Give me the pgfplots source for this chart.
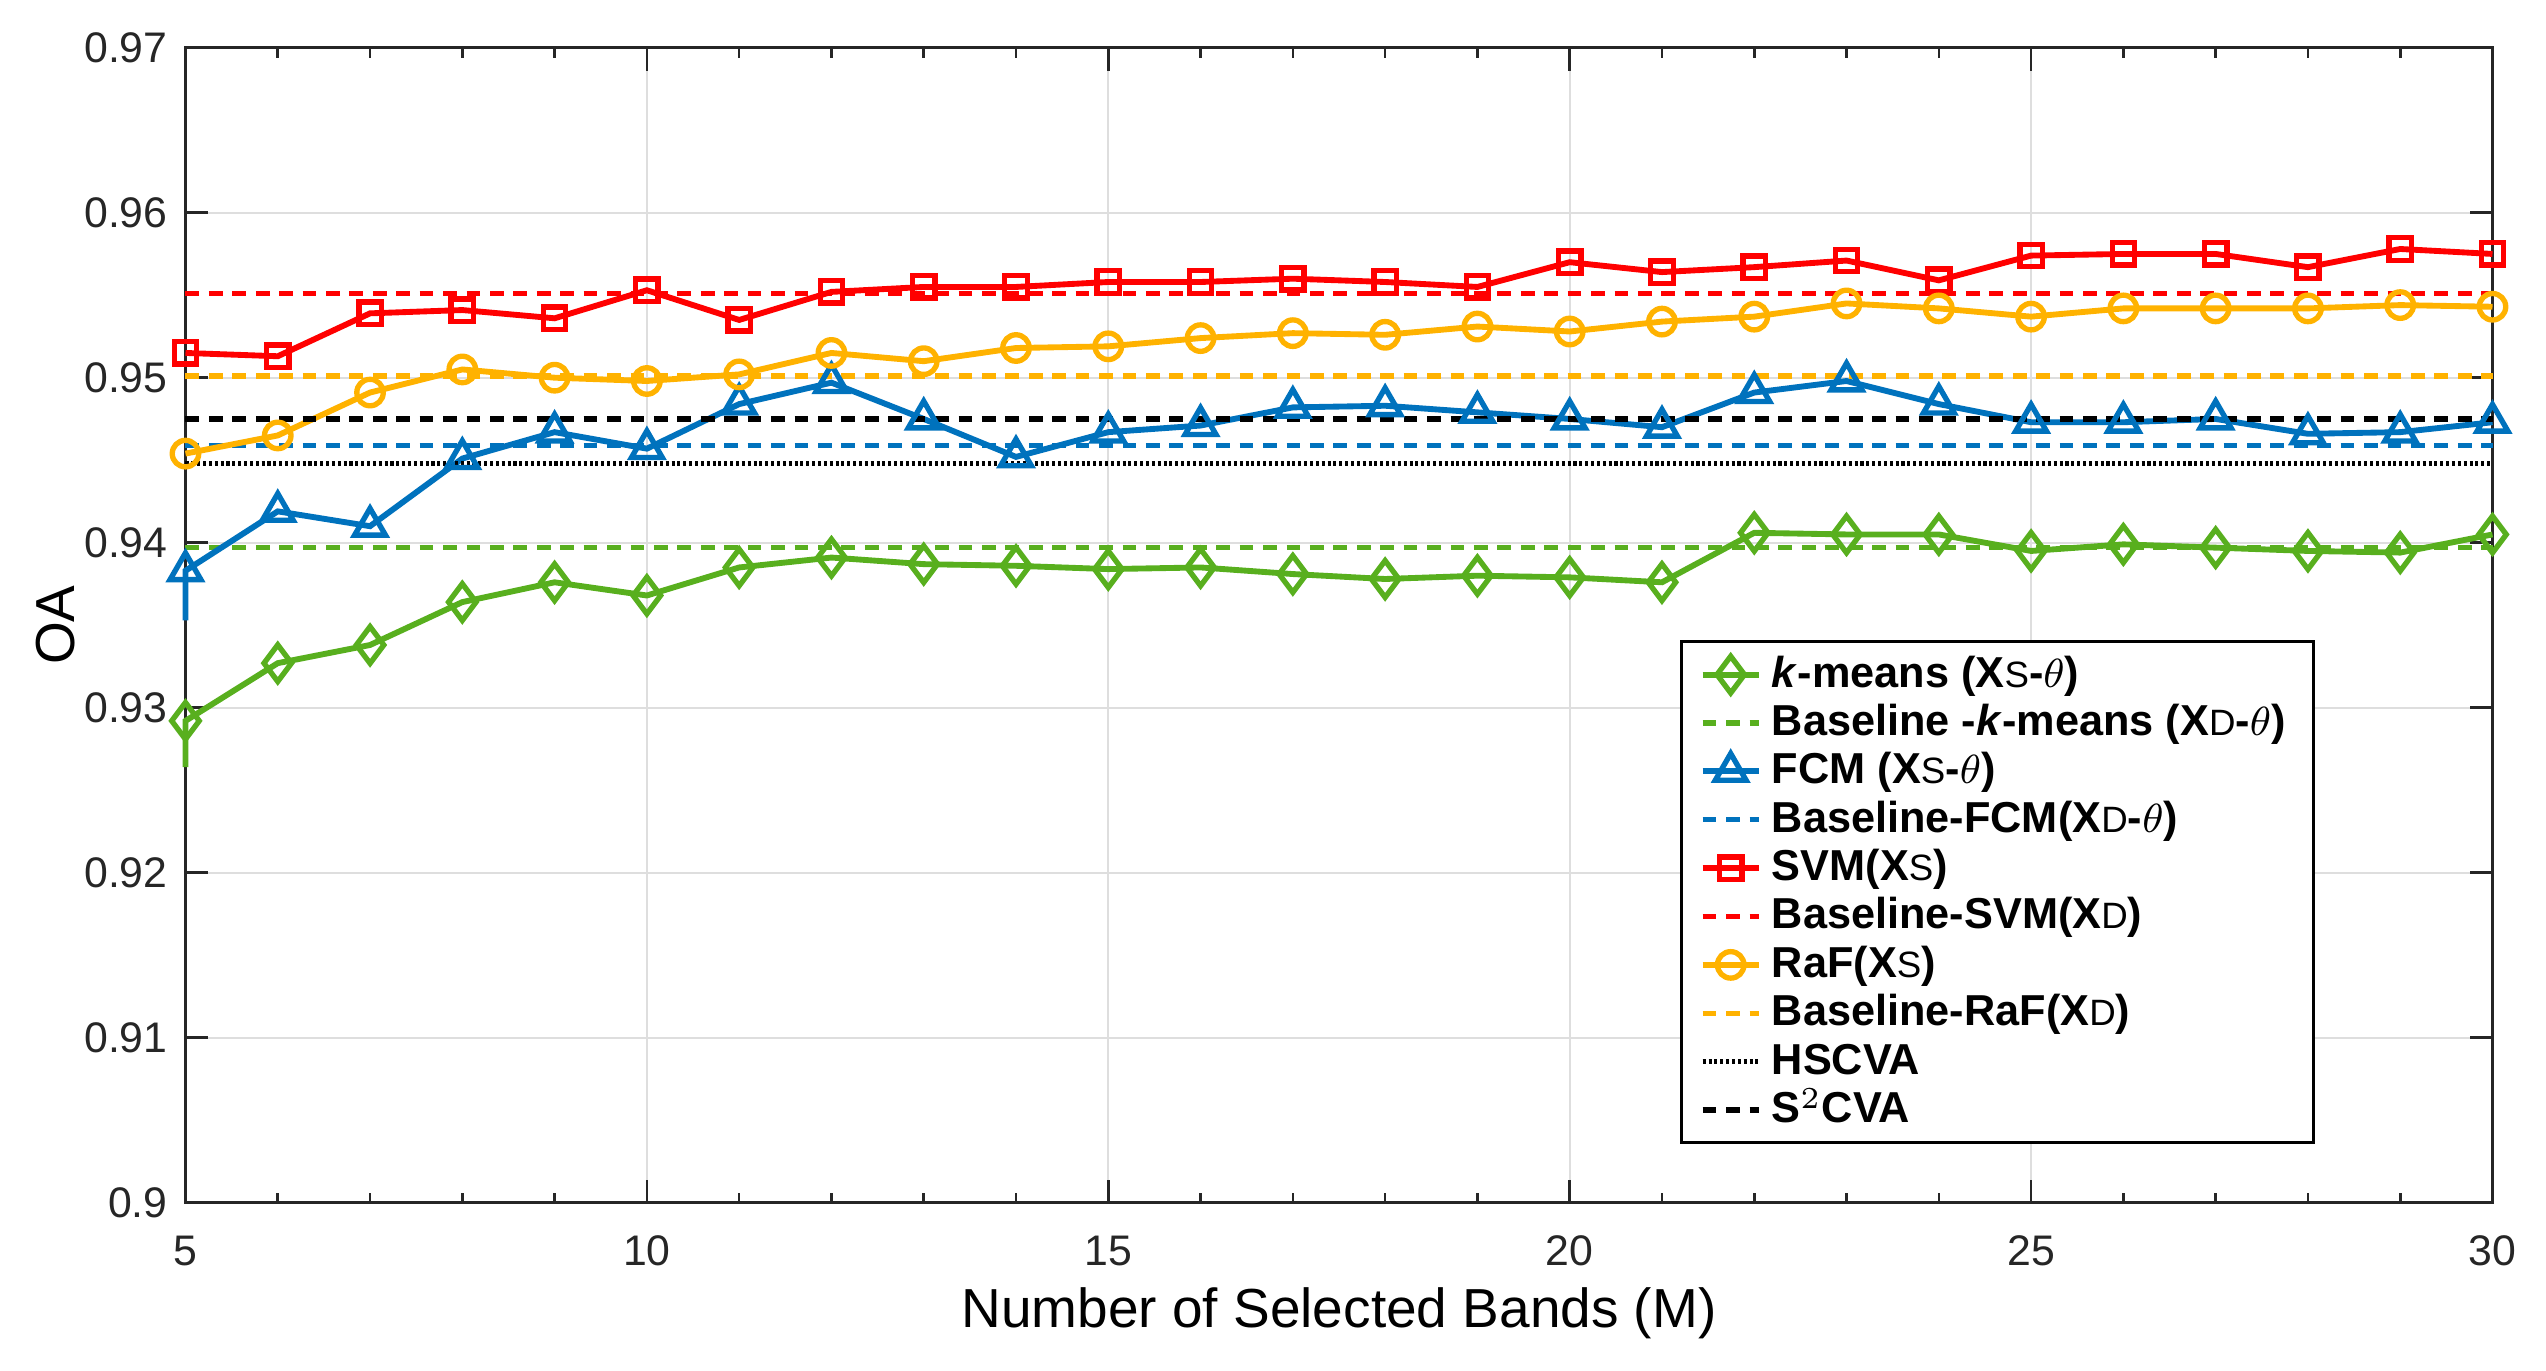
\documentclass[border=0pt]{standalone}
\usepackage{fontspec}
\setmainfont{Liberation Sans}
\usepackage{pgfplots}
\pgfplotsset{compat=1.18}

\definecolor{cgreen}{RGB}{88,175,30}
\definecolor{cblue}{RGB}{0,114,189}
\definecolor{cred}{RGB}{255,0,0}
\definecolor{corange}{RGB}{255,178,0}
\definecolor{axgray}{RGB}{38,38,38}

\newcommand{\Xs}{X{\mdseries\fontsize{7.2}{8}\selectfont S}}
\newcommand{\Xd}{X{\mdseries\fontsize{7.2}{8}\selectfont D}}

\pgfplotsset{
  solidline/.style={solid, line width=1.15pt, every mark/.append style={solid, line width=1.05pt}},
  baseline/.style={dash pattern=on 2.7pt off 1.9pt, line width=1.05pt},
}

\begin{document}
\begin{tikzpicture}
\begin{axis}[
  scale only axis, width=453pt, height=226.8pt,
  xmin=5, xmax=30, ymin=0.9, ymax=0.97,
  clip=false,
  axis line style={axgray, line width=0.5pt},
  xtick={5,10,...,30}, minor x tick num=4,
  ytick={0.9,0.91,0.92,0.93,0.94,0.95,0.96,0.97},
  tick align=inside,
  major tick length=4.5pt, minor tick length=2pt,
  tick style={axgray, line width=0.5pt},
  grid=major,
  major grid style={black!13, line width=0.4pt},
  /pgf/number format/assume math mode=true,
  yticklabel style={/pgf/number format/fixed, /pgf/number format/precision=2},
  ticklabel style={font=\fontsize{8.4}{9}\selectfont, text=axgray},
  xticklabel style={yshift=-3pt},
  xlabel={Number of Selected Bands (M)},
  ylabel={OA},
  label style={font=\fontsize{10.8}{12}\selectfont},
  xlabel style={at={(axis description cs:0.5,-0.0953)}, anchor=center},
  ylabel style={at={(axis description cs:-0.0565,0.5)}, anchor=center, rotate=0},
  legend cell align=left,
  legend image code/.code={\draw[mark repeat=2, mark phase=2] plot coordinates {(0pt,0pt) (5.5pt,0pt) (11pt,0pt)};},
  legend style={at={(0.648,0.487)}, anchor=north west, draw=black, line width=0.6pt, fill=white,
    font=\bfseries\fontsize{8.5}{9}\selectfont, inner xsep=3.5pt, inner ysep=2pt, row sep=0.6pt,
    nodes={inner ysep=0pt, text height=6.9pt, text depth=2pt}},
]

\addplot[cgreen, solidline, mark=diamond, mark size=3.6pt, mark phase=2] coordinates {
(5,0.9264) (5,0.9292) (6,0.9327) (7,0.9338) (8,0.9364) (9,0.9376) (10,0.9368) (11,0.9385)
(12,0.9391) (13,0.9387) (14,0.9386) (15,0.9384) (16,0.9385) (17,0.9381) (18,0.9378)
(19,0.9380) (20,0.9379) (21,0.9376) (22,0.9406) (23,0.9405) (24,0.9405) (25,0.9395)
(26,0.9399) (27,0.9397) (28,0.9395) (29,0.9394) (30,0.9405)};
\addlegendentry{\textit{k}-means (\Xs-$\theta$)}

\addplot[cgreen, baseline] coordinates {(5,0.9397) (30,0.9397)};
\addlegendentry{Baseline -\textit{k}-means (\Xd-$\theta$)}

\addplot[cblue, solidline, mark=triangle, mark size=3.5pt, mark phase=2] coordinates {
(5,0.9353) (5,0.9383) (6,0.9419) (7,0.9410) (8,0.9451) (9,0.9467) (10,0.9457) (11,0.9484)
(12,0.9497) (13,0.9475) (14,0.9452) (15,0.9467) (16,0.9471) (17,0.9482) (18,0.9483)
(19,0.9479) (20,0.9475) (21,0.9470) (22,0.9491) (23,0.9498) (24,0.9484) (25,0.9473)
(26,0.9473) (27,0.9475) (28,0.9466) (29,0.9467) (30,0.9473)};
\addlegendentry{FCM (\Xs-$\theta$)}

\addplot[cblue, baseline] coordinates {(5,0.9459) (30,0.9459)};
\addlegendentry{Baseline-FCM(\Xd-$\theta$)}

\addplot[cred, solidline, mark=square, mark size=2.2pt] coordinates {
(5,0.9515) (6,0.9513) (7,0.9539) (8,0.9541) (9,0.9536) (10,0.9553) (11,0.9535)
(12,0.9552) (13,0.9555) (14,0.9555) (15,0.9558) (16,0.9558) (17,0.9560) (18,0.9558)
(19,0.9555) (20,0.9570) (21,0.9564) (22,0.9567) (23,0.9571) (24,0.9559) (25,0.9574)
(26,0.9575) (27,0.9575) (28,0.9567) (29,0.9578) (30,0.9575)};
\addlegendentry{SVM(\Xs)}

\addplot[cred, baseline] coordinates {(5,0.9551) (30,0.9551)};
\addlegendentry{Baseline-SVM(\Xd)}

\addplot[corange, solidline, mark=o, mark size=2.6pt] coordinates {
(5,0.9454) (6,0.9465) (7,0.9491) (8,0.9505) (9,0.9500) (10,0.9498) (11,0.9502)
(12,0.9515) (13,0.9510) (14,0.9518) (15,0.9519) (16,0.9524) (17,0.9527) (18,0.9526)
(19,0.9531) (20,0.9528) (21,0.9534) (22,0.9537) (23,0.9545) (24,0.9542) (25,0.9537)
(26,0.9542) (27,0.9542) (28,0.9542) (29,0.9544) (30,0.9543)};
\addlegendentry{RaF(\Xs)}

\addplot[corange, baseline] coordinates {(5,0.9501) (30,0.9501)};
\addlegendentry{Baseline-RaF(\Xd)}

\addplot[black, line width=1.05pt, dash pattern=on 0.6pt off 0.55pt] coordinates {(5,0.9448) (30,0.9448)};
\addlegendentry{HSCVA}

\addplot[black, baseline] coordinates {(5,0.9475) (30,0.9475)};
\addlegendentry{S$^2$CVA}

\path (rel axis cs:-0.0804,-0.1457) rectangle (rel axis cs:1.0232,1.0413);
\end{axis}
\end{tikzpicture}
\end{document}
